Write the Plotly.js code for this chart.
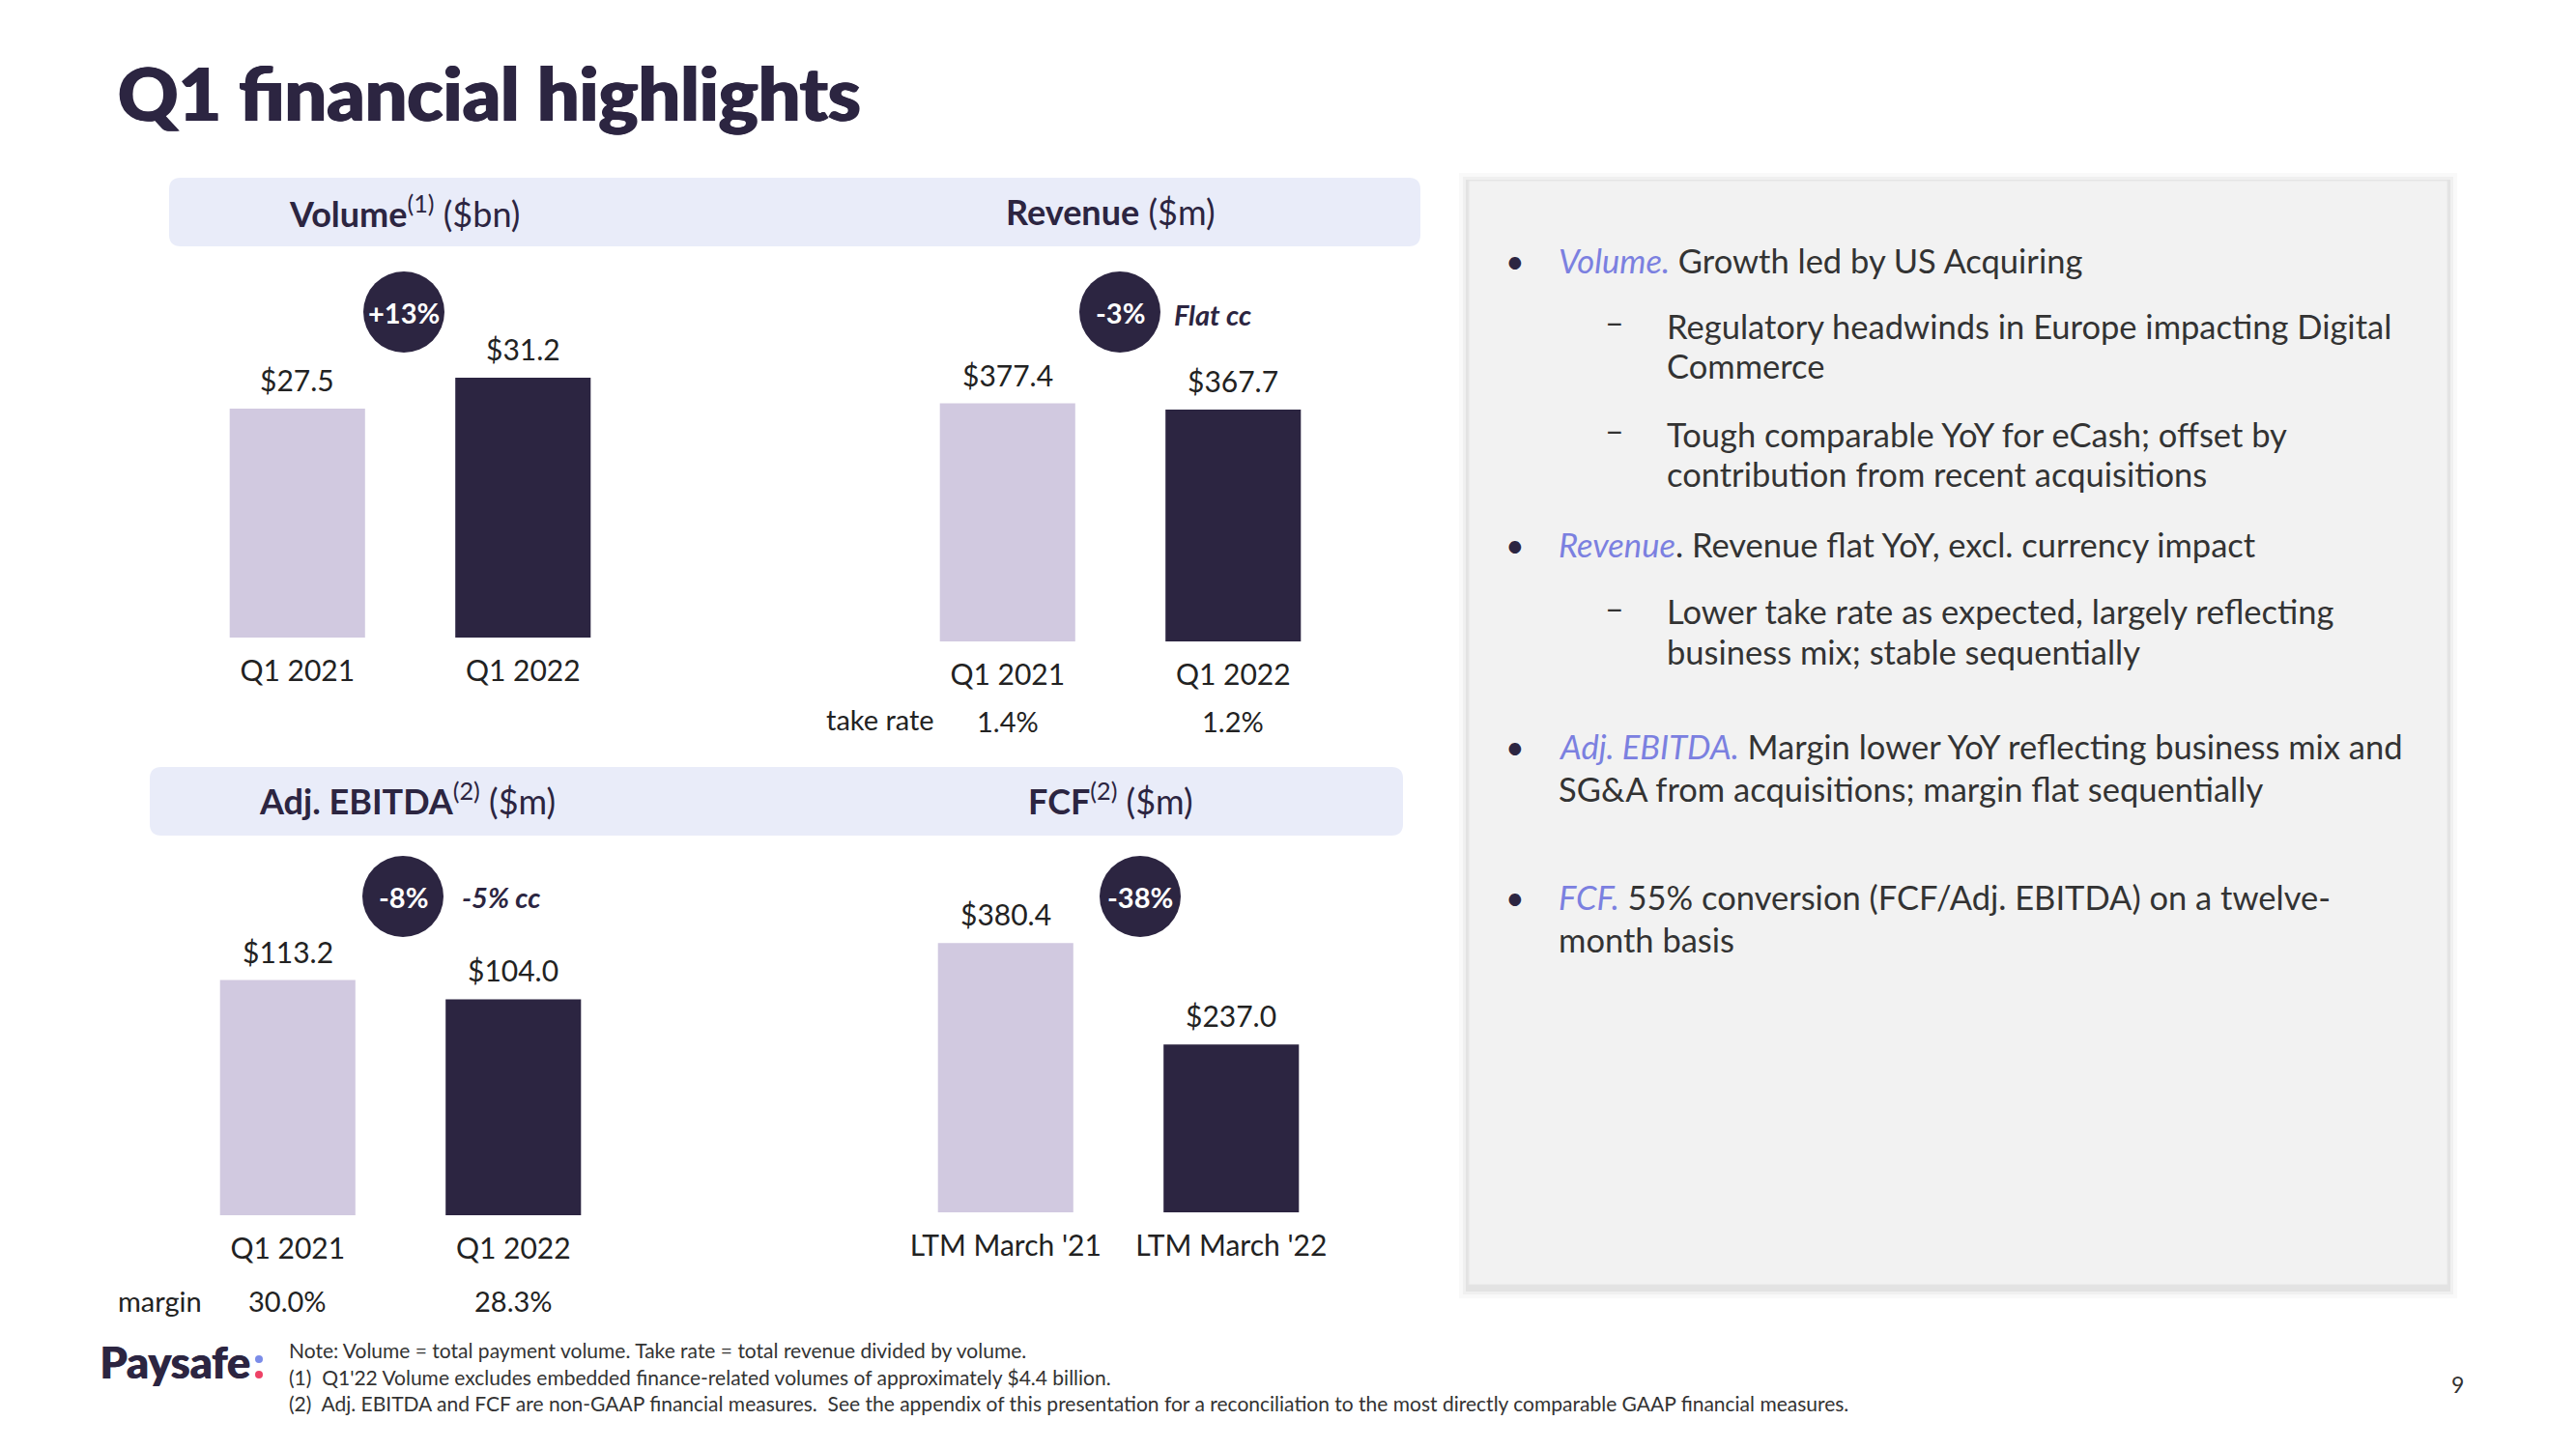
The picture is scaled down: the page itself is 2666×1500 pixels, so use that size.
<!DOCTYPE html>
<html>
<head>
<meta charset="utf-8">
<script src="https://cdn.plot.ly/plotly-3.0.1.min.js"></script>
<style>html,body{margin:0;padding:0;background:#fff;}#chart{width:2666px;height:1500px;}</style>
</head>
<body>
<div id="chart"></div>
<script>
// ---------- data ----------
const quarterCategories = ['Q1 2021', 'Q1 2022'];
const ltmCategories = ["LTM March '21", "LTM March '22"];
const volumeValues = [27.5, 31.2];      // $bn
const revenueValues = [377.4, 367.7];   // $m
const ebitdaValues = [113.2, 104.0];    // $m
const fcfValues = [380.4, 237.0];       // $m
const takeRateLabels = ['1.4%', '1.2%'];
const marginLabels = ['30.0%', '28.3%'];
const changeLabels = ['+13%', '-3%', '-8%', '-38%'];
const ccLabels = ['', 'Flat cc', '-5% cc', ''];
const chartTitles = ['<b>Volume</b><sup>(1)</sup> ($bn)', '<b>Revenue</b> ($m)', '<b>Adj. EBITDA</b><sup>(2)</sup> ($m)', '<b>FCF</b><sup>(2)</sup> ($m)'];
const bulletLines = [
  {lvl: 1, t: '<i><span style="color:#7b80e0">Volume.</span></i> Growth led by US Acquiring'},
  {lvl: 2, t: 'Regulatory headwinds in Europe impacting Digital', first: true},
  {lvl: 2, t: 'Commerce'},
  {lvl: 2, t: 'Tough comparable YoY for eCash; offset by', first: true},
  {lvl: 2, t: 'contribution from recent acquisitions'},
  {lvl: 1, t: '<i><span style="color:#7b80e0">Revenue</span></i>. Revenue flat YoY, excl. currency impact'},
  {lvl: 2, t: 'Lower take rate as expected, largely reflecting', first: true},
  {lvl: 2, t: 'business mix; stable sequentially'},
  {lvl: 1, t: '<i><span style="color:#7b80e0">Adj. EBITDA.</span></i> Margin lower YoY reflecting business mix and'},
  {lvl: 1, t: 'SG&A from acquisitions; margin flat sequentially', cont: true},
  {lvl: 1, t: '<i><span style="color:#7b80e0">FCF.</span></i> 55% conversion (FCF/Adj. EBITDA) on a twelve-'},
  {lvl: 1, t: 'month basis', cont: true}
];
const footnotes = [
  'Note: Volume = total payment volume. Take rate = total revenue divided by volume.',
  '(1)  Q1\'22 Volume excludes embedded finance-related volumes of approximately $4.4 billion.',
  '(2)  Adj. EBITDA and FCF are non-GAAP financial measures.  See the appendix of this presentation for a reconciliation to the most directly comparable GAAP financial measures.'
];

// ---------- layout helpers ----------
const W = 2666, H = 1500;
const FONT = 'Source Sans Pro, Lato, sans-serif';
const DARK = '#2c2541', LIGHT = '#d1c9e0', TXT = '#222222';
const px = x => x / W, py = y => 1 - y / H;
const P = (x, y) => px(x) + ',' + py(y);
function roundRect(x0, y0, x1, y1, r) {
  return 'M' + P(x0 + r, y0) + ' L' + P(x1 - r, y0) + ' Q' + P(x1, y0) + ' ' + P(x1, y0 + r) +
    ' L' + P(x1, y1 - r) + ' Q' + P(x1, y1) + ' ' + P(x1 - r, y1) +
    ' L' + P(x0 + r, y1) + ' Q' + P(x0, y1) + ' ' + P(x0, y1 - r) +
    ' L' + P(x0, y0 + r) + ' Q' + P(x0, y0) + ' ' + P(x0 + r, y0) + ' Z';
}

// chart frames (pixel geometry): left, right, baseline, top, pixels per unit
const frames = [
  {xl: 191, xr: 658, yb: 660, yt: 300, s: 8.62, cats: quarterCategories, vals: volumeValues},
  {xl: 926, xr: 1393, yb: 664, yt: 300, s: 0.653, cats: quarterCategories, vals: revenueValues},
  {xl: 181, xr: 648, yb: 1258, yt: 900, s: 2.15, cats: quarterCategories, vals: ebitdaValues},
  {xl: 924, xr: 1391, yb: 1255, yt: 900, s: 0.733, cats: ltmCategories, vals: fcfValues}
];

const data = [];
const layout = {
  width: W, height: H, margin: {l: 0, r: 0, t: 0, b: 0},
  paper_bgcolor: '#ffffff', plot_bgcolor: 'rgba(0,0,0,0)',
  showlegend: false, font: {family: FONT, color: TXT},
  shapes: [], annotations: [], bargap: 0.4
};

frames.forEach((f, i) => {
  const n = i === 0 ? '' : String(i + 1);
  data.push({
    type: 'bar', x: f.cats, y: f.vals, xaxis: 'x' + n, yaxis: 'y' + n,
    marker: {color: [LIGHT, DARK]}, width: 0.6, hoverinfo: 'none', cliponaxis: false
  });
  layout['xaxis' + n] = {
    domain: [px(f.xl), px(f.xr)], anchor: 'y' + n, type: 'category', range: [-0.5, 1.5],
    showgrid: false, zeroline: false, showline: false, ticks: '',
    tickfont: {size: 30, color: TXT, family: FONT}, ticklabelstandoff: 14, fixedrange: true
  };
  layout['yaxis' + n] = {
    domain: [py(f.yb), py(f.yt)], anchor: 'x' + n, range: [0, (f.yb - f.yt) / f.s],
    visible: false, fixedrange: true
  };
  // value labels
  f.vals.forEach((v, k) => {
    layout.annotations.push({
      xref: 'x' + n, yref: 'y' + n, x: f.cats[k], y: v, yanchor: 'middle', yshift: 30,
      text: '$' + v.toFixed(1), showarrow: false, font: {size: 30, color: TXT, family: FONT}
    });
  });
});

// header boxes
[[175, 184, 1470, 255], [155, 794, 1452, 865]].forEach(b => {
  layout.shapes.push({type: 'path', xref: 'paper', yref: 'paper', path: roundRect(b[0], b[1], b[2], b[3], 12),
    fillcolor: '#e9ecf9', line: {width: 0}, layer: 'below'});
});
const titlePos = [[418, 219], [1149, 219], [421, 827], [1149, 827]];
chartTitles.forEach((t, i) => {
  layout.annotations.push({xref: 'paper', yref: 'paper', x: px(titlePos[i][0]), y: py(titlePos[i][1]),
    xanchor: 'center', yanchor: 'middle', text: t, showarrow: false, font: {size: 36, color: DARK, family: FONT}});
});

// change bubbles
const bubblePos = [[418, 323], [1159, 323], [417, 928], [1180, 928]];
const ccPos = [null, [1213, 325], [476, 928], null];
changeLabels.forEach((t, i) => {
  const [cx, cy] = bubblePos[i], r = 42;
  layout.shapes.push({type: 'circle', xref: 'paper', yref: 'paper', x0: px(cx - r), x1: px(cx + r),
    y0: py(cy + r), y1: py(cy - r), fillcolor: DARK, line: {width: 0}});
  layout.annotations.push({xref: 'paper', yref: 'paper', x: px(cx), y: py(cy), xanchor: 'center', yanchor: 'middle',
    text: '<b>' + t + '</b>', showarrow: false, font: {size: 29, color: '#ffffff', family: FONT}});
  if (ccLabels[i]) {
    layout.annotations.push({xref: 'paper', yref: 'paper', x: px(ccPos[i][0]), y: py(ccPos[i][1]), xanchor: 'left', yanchor: 'middle',
      text: '<b><i>' + ccLabels[i] + '</i></b>', showarrow: false, font: {size: 29, color: DARK, family: FONT}});
  }
});

// take rate & margin rows
layout.annotations.push({xref: 'paper', yref: 'paper', x: px(911), y: py(745), xanchor: 'center', yanchor: 'middle',
  text: 'take rate', showarrow: false, font: {size: 29, color: TXT}});
takeRateLabels.forEach((t, k) => layout.annotations.push({xref: 'x2', yref: 'paper', x: quarterCategories[k], y: py(746),
  xanchor: 'center', yanchor: 'middle', text: t, showarrow: false, font: {size: 29, color: TXT}}));
layout.annotations.push({xref: 'paper', yref: 'paper', x: px(165), y: py(1346), xanchor: 'center', yanchor: 'middle',
  text: 'margin', showarrow: false, font: {size: 29, color: TXT}});
marginLabels.forEach((t, k) => layout.annotations.push({xref: 'x3', yref: 'paper', x: quarterCategories[k], y: py(1346),
  xanchor: 'center', yanchor: 'middle', text: t, showarrow: false, font: {size: 29, color: TXT}}));

// right commentary panel with soft shadow
[[10, 0.025], [6, 0.035], [3, 0.05]].forEach(([d, a]) => {
  layout.shapes.push({type: 'rect', xref: 'paper', yref: 'paper', x0: px(1520 - d), x1: px(2533 + d),
    y0: py(1330 + d + 4), y1: py(187 - d + 2), fillcolor: 'rgba(0,0,0,' + a + ')', line: {width: 0}, layer: 'below'});
});
layout.shapes.push({type: 'rect', xref: 'paper', yref: 'paper', x0: px(1520), x1: px(2533), y0: py(1330), y1: py(187),
  fillcolor: '#f2f2f2', line: {width: 1, color: '#e6e6e6'}, layer: 'below'});

const lineY = [269, 337, 379, 449, 491, 563, 632, 675, 772, 816, 928, 972];
bulletLines.forEach((ln, i) => {
  const y = py(lineY[i]);
  let tx = ln.lvl === 1 ? 1611 : 1723;
  if (ln.lvl === 1 && !ln.cont) {
    layout.annotations.push({xref: 'paper', yref: 'paper', x: px(1568), y: y, xanchor: 'center', yanchor: 'middle',
      text: '•', showarrow: false, font: {size: 34, color: DARK}});
  }
  if (ln.lvl === 2 && ln.first) {
    layout.annotations.push({xref: 'paper', yref: 'paper', x: px(1671), y: py(lineY[i] - 4), xanchor: 'center', yanchor: 'middle',
      text: '–', showarrow: false, font: {size: 34, color: '#333333'}});
  }
  layout.annotations.push({xref: 'paper', yref: 'paper', x: px(tx), y: y, xanchor: 'left', yanchor: 'middle',
    text: ln.t, showarrow: false, align: 'left', font: {size: 34.5, color: '#333333', family: FONT}});
});

// page title
layout.annotations.push({xref: 'paper', yref: 'paper', x: px(120), y: py(95), xanchor: 'left', yanchor: 'middle',
  text: 'Q1 financial highlights', showarrow: false,
  font: {size: 77, color: DARK, family: FONT, weight: 900, shadow: '1px 0px 0px #2c2541, -1px 0px 0px #2c2541'}});

// footer: logo, notes, page number
layout.annotations.push({xref: 'paper', yref: 'paper', x: px(101), y: py(1410), xanchor: 'left', yanchor: 'middle',
  text: 'Paysafe', showarrow: false,
  font: {size: 45, color: DARK, family: 'Lato, sans-serif', weight: 900, shadow: '1px 0px 0px #2c2541'}});
layout.shapes.push({type: 'circle', xref: 'paper', yref: 'paper', x0: px(264), x1: px(272), y0: py(1411), y1: py(1403), fillcolor: '#7b8ce8', line: {width: 0}});
layout.shapes.push({type: 'circle', xref: 'paper', yref: 'paper', x0: px(264), x1: px(272), y0: py(1427), y1: py(1419), fillcolor: '#ee4266', line: {width: 0}});
const noteY = [1397, 1425, 1452];
footnotes.forEach((t, i) => layout.annotations.push({xref: 'paper', yref: 'paper', x: px(297), y: py(noteY[i]), xanchor: 'left', yanchor: 'middle',
  text: t, showarrow: false, font: {size: 21, color: '#333333', family: FONT}}));
layout.annotations.push({xref: 'paper', yref: 'paper', x: px(2543), y: py(1433), xanchor: 'center', yanchor: 'middle',
  text: '9', showarrow: false, font: {size: 23, color: '#333333'}});

Plotly.newPlot('chart', data, layout, {staticPlot: true, displayModeBar: false});
</script>
</body>
</html>
